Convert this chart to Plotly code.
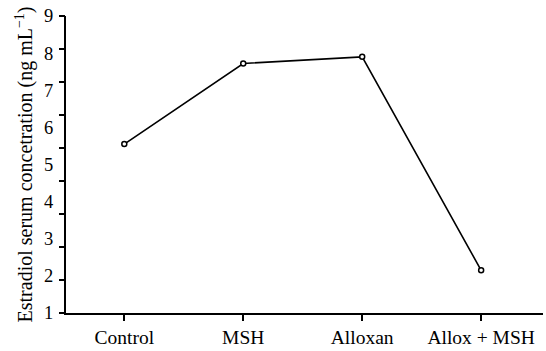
import plotly.graph_objects as go

categories = ["Control", "MSH", "Alloxan", "Allox + MSH"]
values = [5.55, 7.72, 7.90, 2.15]
y_labels = [1, 2, 3, 4, 5, 6, 7, 8, 9]
y_tick_marks = [0, 1, 2, 3, 4, 5, 6, 7, 8, 9]

FONT = "Liberation Serif, Times New Roman, serif"

fig = go.Figure()
fig.add_trace(go.Scatter(
    x=list(range(len(categories))), y=values, mode="lines+markers",
    line=dict(color="black", width=1.6),
    marker=dict(symbol="circle", size=5, color="white",
                line=dict(color="black", width=1.5)),
    showlegend=False, hoverinfo="skip",
))
fig.add_trace(go.Scatter(x=[], y=[], yaxis="y2", showlegend=False))

fig.update_layout(
    width=546, height=351,
    margin=dict(l=66, r=3, t=16, b=36),
    paper_bgcolor="white", plot_bgcolor="white",
    font=dict(family=FONT, size=18, color="black"),
    xaxis=dict(
        range=[-0.49, 3.52], tickmode="array",
        tickvals=list(range(len(categories))), ticktext=categories,
        tickfont=dict(size=19.5),
        showline=True, linecolor="black", linewidth=2,
        ticks="outside", ticklen=6, tickwidth=2, tickcolor="black",
        showgrid=False, zeroline=False,
    ),
    yaxis=dict(
        range=[1, 9], tickmode="array", tickvals=y_labels,
        ticktext=[str(v) for v in y_labels],
        tickfont=dict(size=18.5),
        ticks="outside", ticklen=7, tickcolor="rgba(0,0,0,0)",
        showline=True, linecolor="black", linewidth=2,
        showgrid=False, zeroline=False,
        title=dict(text="Estradiol serum concetration (ng mL<sup>−1</sup>)",
                   font=dict(size=20), standoff=6),
    ),
    yaxis2=dict(
        range=[0, 9], overlaying="y", side="left", anchor="x",
        tickmode="array", tickvals=y_tick_marks, showticklabels=False,
        ticks="outside", ticklen=6, tickwidth=2, tickcolor="black",
        showline=False, showgrid=False, zeroline=False,
    ),
)

fig.write_html("out.html", config={"displayModeBar": False},
               post_script="document.body.style.margin='0';")
